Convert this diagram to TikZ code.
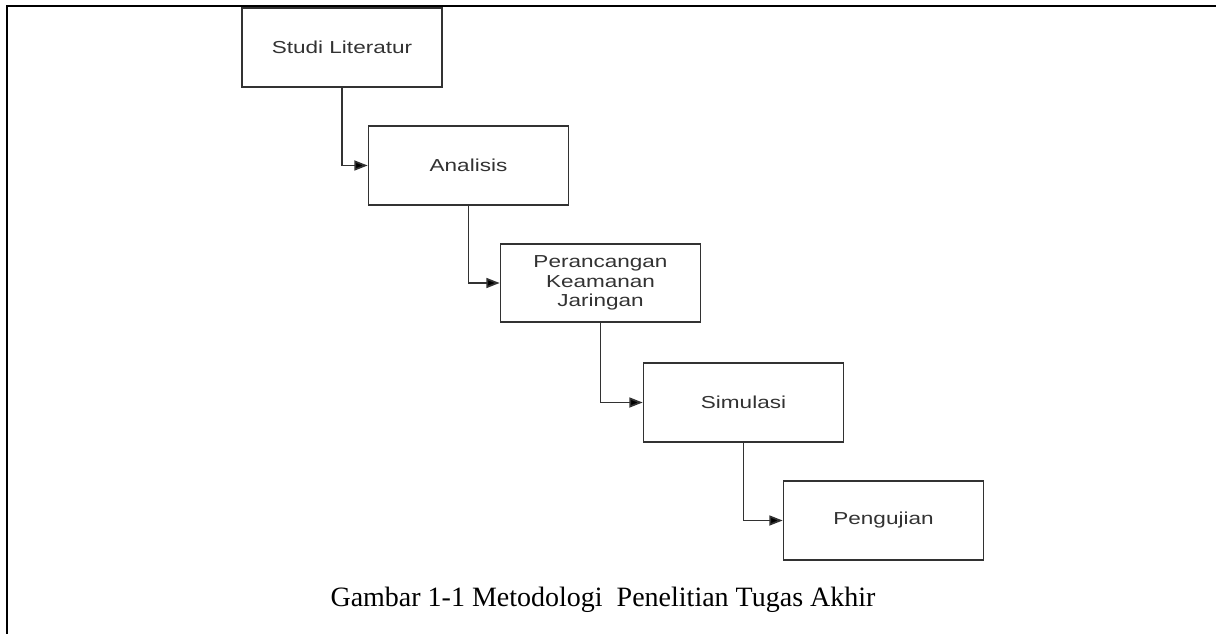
\documentclass[tikz,border=0pt]{standalone}
\usepackage{fontspec}
\setmainfont{Liberation Serif}
\newfontfamily\boxfont[FakeStretch=1.3]{Liberation Sans}
\usepackage{xcolor}
\usetikzlibrary{arrows.meta}
\definecolor{boxgray}{RGB}{50,50,50}
\definecolor{txtgray}{RGB}{50,50,50}

\begin{document}
\begin{tikzpicture}[x=0.75pt,y=0.75pt,yscale=-1,xscale=1,
  stepbox/.style={draw=boxgray,line width=1.3pt,minimum width=150pt,minimum height=59pt,inner sep=0pt,
    align=center,text=txtgray,font=\boxfont\fontsize{13}{14.5}\selectfont},
  flow/.style={draw=boxgray,line width=1.3pt,-{Triangle[length=10pt,width=7.5pt,fill=black]}}]
\useasboundingbox (0,0) rectangle (1216,634);

%Shape: Frame
\draw [line width=1.5pt] (7,634) -- (7,6) -- (1216,6) ;

% Step nodes
\node [stepbox] (studi) at (342,47.5) {Studi Literatur};
\node [stepbox] (analisis) at (468.5,165.5) {Analisis};
\node [stepbox] (rancang) at (600.5,283) {Perancangan\\Keamanan\\Jaringan};
\node [stepbox] (simulasi) at (743.5,402.5) {Simulasi};
\node [stepbox] (uji) at (883.5,520.5) {Pengujian};

% Connectors
\draw [flow] (studi.south) |- (analisis.west) ;
\draw [flow] (analisis.south) |- (rancang.west) ;
\draw [flow] (rancang.south) |- (simulasi.west) ;
\draw [flow] (simulasi.south) |- (uji.west) ;

% Text Node
\node [anchor=base,font=\fontsize{21}{25}\selectfont] (caption) at (603,606) {Gambar 1-1 Metodologi~ Penelitian Tugas Akhir};

\end{tikzpicture}
\end{document}
